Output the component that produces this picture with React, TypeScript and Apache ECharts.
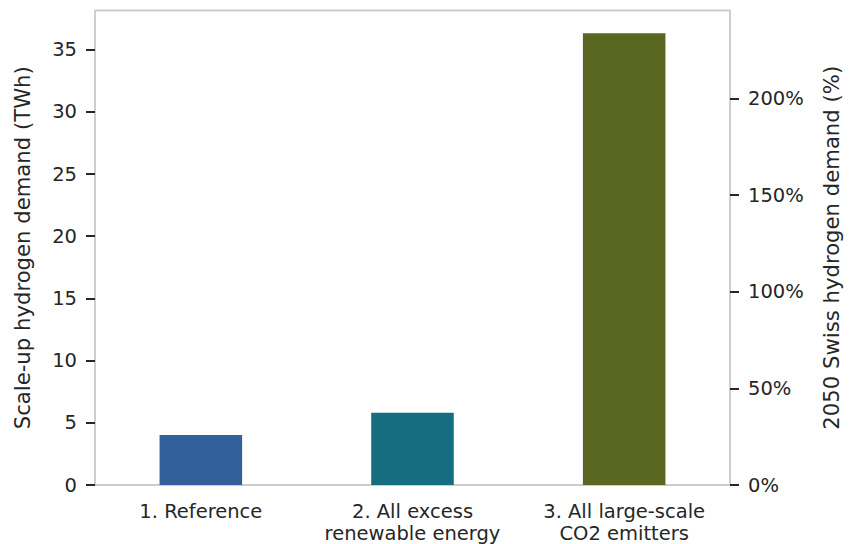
import React, { useEffect, useRef } from "react";
import * as echarts from "echarts";

// Scenario names on the x axis
const scenarios = [
  "1. Reference",
  "2. All excess\nrenewable energy",
  "3. All large-scale\nCO2 emitters",
];
// Scale-up hydrogen demand per scenario (TWh)
const demandTWh = [4.02, 5.81, 36.33];
const barColors = ["#335f9a", "#146e80", "#5a6720"];

// Tick values on both value axes
const leftTicks = [0, 5, 10, 15, 20, 25, 30, 35];
const rightTicks = [0, 50, 100, 150, 200];
const leftMax = 38.15;
const rightMax = 245.6;

const FONT = "DejaVu Sans";
const INK = "#262626";

export default function App() {
  const ref = useRef<HTMLDivElement>(null);

  useEffect(() => {
    if (!ref.current) return;
    const chart = echarts.init(ref.current, null, { renderer: "svg" });
    chart.setOption({
      animation: false,
      backgroundColor: "#ffffff",
      textStyle: { fontFamily: FONT, color: INK },
      grid: {
        left: 95,
        right: 116,
        top: 10.5,
        bottom: 58,
        show: true,
        borderColor: "#cccccc",
        borderWidth: 1.9,
        backgroundColor: "transparent",
      },
      xAxis: {
        type: "category",
        data: scenarios,
        boundaryGap: true,
        axisLine: { show: false },
        axisTick: { show: false },
        axisLabel: {
          fontFamily: FONT,
          fontSize: 19.5,
          lineHeight: 22,
          color: INK,
          margin: 15,
          interval: 0,
        },
      },
      yAxis: [
        {
          type: "value",
          min: 0,
          max: leftMax,
          interval: 5,
          position: "left",
          name: "Scale-up hydrogen demand (TWh)",
          nameLocation: "middle",
          nameRotate: 90,
          nameGap: 62,
          nameTextStyle: { fontFamily: FONT, fontSize: 21.2, color: INK },
          splitLine: { show: false },
          axisLine: { show: false },
          axisTick: {
            show: true,
            length: 9,
            customValues: leftTicks,
            lineStyle: { color: INK, width: 2 },
          },
          axisLabel: {
            fontFamily: FONT,
            fontSize: 19.5,
            color: INK,
            margin: 18,
            customValues: leftTicks,
          },
        },
        {
          type: "value",
          min: 0,
          max: rightMax,
          interval: 50,
          position: "right",
          name: "2050 Swiss hydrogen demand (%)",
          nameLocation: "middle",
          nameRotate: 90,
          nameGap: 91,
          nameTextStyle: { fontFamily: FONT, fontSize: 21.2, color: INK },
          splitLine: { show: false },
          axisLine: { show: false },
          axisTick: {
            show: true,
            length: 9,
            customValues: rightTicks,
            lineStyle: { color: INK, width: 2 },
          },
          axisLabel: {
            fontFamily: FONT,
            fontSize: 19.5,
            color: INK,
            margin: 18,
            customValues: rightTicks,
            formatter: "{value}%",
          },
        },
      ],
      series: [
        {
          type: "bar",
          yAxisIndex: 0,
          barWidth: "39%",
          data: demandTWh.map((v, i) => ({
            value: v,
            itemStyle: { color: barColors[i] },
          })),
        },
      ],
    });
    return () => chart.dispose();
  }, []);

  return (
    <div
      ref={ref}
      style={{ position: "fixed", left: 0, top: 0, width: 850, height: 544 }}
    />
  );
}
